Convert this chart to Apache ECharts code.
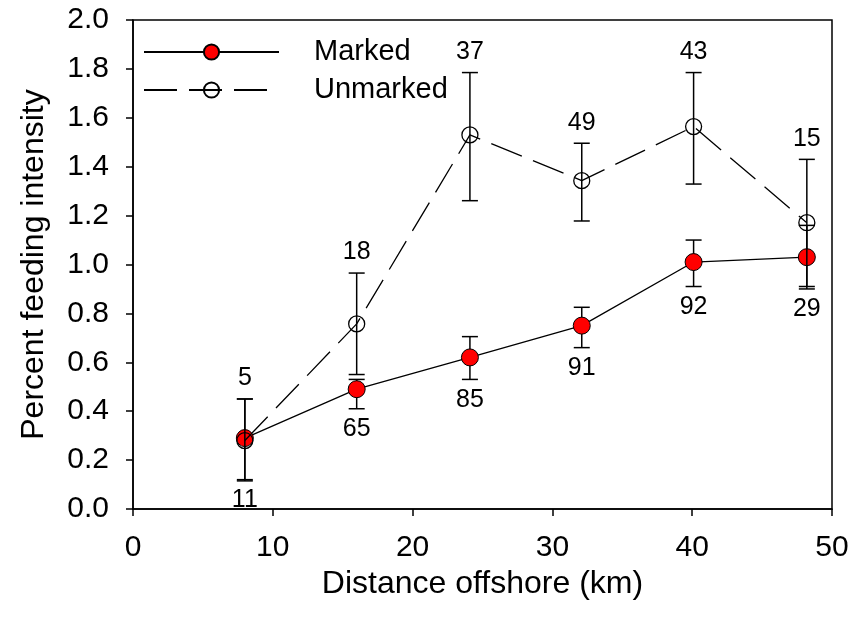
<!DOCTYPE html>
<html>
<head>
    <meta charset="UTF-8">
    <title>Feeding intensity vs distance offshore</title>
    <script src="https://cdn.jsdelivr.net/npm/echarts@6/dist/echarts.min.js"></script>
    <style>
        html, body { margin: 0; padding: 0; background: #fff; }
        #main { width: 867px; height: 623px; }
    </style>
</head>
<body>
<div id="main"></div>
<script>
    // distance offshore (km)
    var distance = [8, 16, 24.1, 32.1, 40.1, 48.2];

    // marked fish: mean, error bar top / bottom, sample size
    var markedMean = [0.29, 0.49, 0.62, 0.75, 1.01, 1.03];
    var markedHi = [0.45, 0.53, 0.705, 0.825, 1.10, 1.16];
    var markedLo = [0.12, 0.41, 0.53, 0.66, 0.91, 0.90];
    var markedN = [11, 65, 85, 91, 92, 29];

    // unmarked fish
    var unmarkedMean = [0.28, 0.757, 1.53, 1.343, 1.564, 1.171];
    var unmarkedHi = [0.45, 0.965, 1.785, 1.496, 1.785, 1.43];
    var unmarkedLo = [0.115, 0.55, 1.261, 1.178, 1.329, 0.91];
    var unmarkedN = [5, 18, 37, 49, 43, 15];

    var xTicks = [0, 10, 20, 30, 40, 50];
    var yTicks = [0, 0.2, 0.4, 0.6, 0.8, 1.0, 1.2, 1.4, 1.6, 1.8, 2.0];

    var FONT = 'Liberation Sans, Arial, sans-serif';

    function pairs(xs, ys) {
        return xs.map(function (x, i) { return [x, ys[i]]; });
    }
    function errRows(xs, lo, hi) {
        return xs.map(function (x, i) { return [x, lo[i], hi[i]]; });
    }
    function labelRows(xs, ys, ns) {
        return xs.map(function (x, i) { return [x, ys[i], ns[i]]; });
    }

    function renderErr(params, api) {
        var x = api.value(0);
        var top = api.coord([x, api.value(2)]);
        var bot = api.coord([x, api.value(1)]);
        var w = 8;
        var st = { stroke: '#000', lineWidth: 1.5 };
        return {
            type: 'group',
            children: [
                { type: 'line', shape: { x1: top[0], y1: top[1], x2: bot[0], y2: bot[1] }, style: st },
                { type: 'line', shape: { x1: top[0] - w, y1: top[1], x2: top[0] + w, y2: top[1] }, style: st },
                { type: 'line', shape: { x1: bot[0] - w, y1: bot[1], x2: bot[0] + w, y2: bot[1] }, style: st }
            ]
        };
    }

    var chart = echarts.init(document.getElementById('main'), null, { renderer: 'canvas' });

    var option = {
        animation: false,
        backgroundColor: '#fff',
        textStyle: { fontFamily: FONT },
        grid: {
            left: 133, right: 35, top: 20, bottom: 114,
            show: true, borderColor: '#000', borderWidth: 1.5
        },
        legend: {
            orient: 'vertical',
            left: 143,
            top: 37,
            padding: 0,
            itemWidth: 135,
            itemHeight: 19,
            itemGap: 8,
            data: ['Marked', 'Unmarked'],
            textStyle: { fontSize: 29, color: '#000', fontFamily: FONT, lineHeight: 30, padding: [0, 0, 0, 30] }
        },
        xAxis: {
            type: 'value',
            min: xTicks[0],
            max: xTicks[xTicks.length - 1],
            interval: 10,
            name: 'Distance offshore (km)',
            nameLocation: 'middle',
            nameGap: 54,
            nameTextStyle: { fontSize: 32, color: '#000', fontFamily: FONT },
            splitLine: { show: false },
            axisLine: { lineStyle: { color: '#000', width: 1.5 } },
            axisTick: { show: true, inside: false, length: 7, lineStyle: { color: '#000', width: 1.5 } },
            axisLabel: { fontSize: 30, color: '#000', margin: 24, fontFamily: FONT }
        },
        yAxis: {
            type: 'value',
            min: yTicks[0],
            max: yTicks[yTicks.length - 1],
            interval: 0.2,
            name: 'Percent feeding intensity',
            nameLocation: 'middle',
            nameGap: 83,
            nameTextStyle: { fontSize: 32, color: '#000', fontFamily: FONT },
            splitLine: { show: false },
            axisLine: { show: true, lineStyle: { color: '#000', width: 1.5 } },
            axisTick: { show: true, inside: false, length: 7, lineStyle: { color: '#000', width: 1.5 } },
            axisLabel: {
                fontSize: 30, color: '#000', margin: 24, fontFamily: FONT,
                formatter: function (v) { return v.toFixed(1); }
            }
        },
        series: [
            {
                type: 'custom',
                name: 'markedErr',
                renderItem: renderErr,
                data: errRows(distance, markedLo, markedHi),
                z: 2
            },
            {
                name: 'Marked',
                type: 'line',
                data: pairs(distance, markedMean),
                symbol: 'circle',
                symbolSize: 17,
                lineStyle: { color: '#000', width: 1.3 },
                itemStyle: { color: '#ff0000', borderColor: '#000', borderWidth: 1 },
                z: 3
            },
            {
                type: 'custom',
                name: 'unmarkedErr',
                renderItem: renderErr,
                data: errRows(distance, unmarkedLo, unmarkedHi),
                z: 4
            },
            {
                name: 'Unmarked',
                type: 'line',
                data: pairs(distance, unmarkedMean),
                symbol: 'circle',
                symbolSize: 16,
                lineStyle: { color: '#000', width: 1.3, type: [33, 12] },
                itemStyle: { color: 'rgba(0,0,0,0)', borderColor: '#000', borderWidth: 1.3 },
                z: 5
            },
            {
                type: 'scatter',
                name: 'markedN',
                symbolSize: 0,
                silent: true,
                itemStyle: { opacity: 1 },
                data: labelRows(distance, markedLo, markedN),
                label: {
                    show: true, position: 'bottom', distance: 8,
                    fontSize: 25, color: '#000', fontFamily: FONT,
                    formatter: function (p) { return p.value[2]; }
                },
                z: 6
            },
            {
                type: 'scatter',
                name: 'unmarkedN',
                symbolSize: 0,
                silent: true,
                itemStyle: { opacity: 1 },
                data: labelRows(distance, unmarkedHi, unmarkedN),
                label: {
                    show: true, position: 'top', distance: 8,
                    fontSize: 25, color: '#000', fontFamily: FONT,
                    formatter: function (p) { return p.value[2]; }
                },
                z: 6
            }
        ]
    };

    chart.setOption(option);
</script>
</body>
</html>
